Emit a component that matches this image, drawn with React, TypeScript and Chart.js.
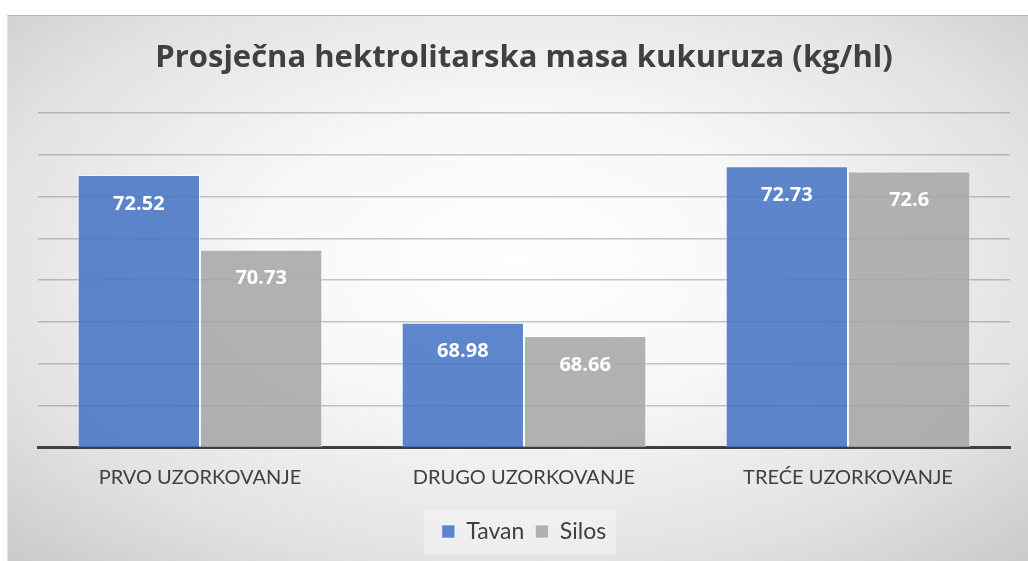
import React, { useEffect, useRef } from "react";
import { Chart, registerables } from "chart.js";

Chart.register(...registerables);

const categories = ["PRVO UZORKOVANJE", "DRUGO UZORKOVANJE", "TREĆE UZORKOVANJE"];
const tavanValues = [72.52, 68.98, 72.73];
const silosValues = [70.73, 68.66, 72.6];
const seriesNames = ["Tavan", "Silos"];
const chartTitle = "Prosječna hektrolitarska masa kukuruza (kg/hl)";
const yMin = 66;
const yMax = 74;

const FONT = "Lato, 'Noto Sans', sans-serif";
const TITLE_FONT = "'Open Sans', Lato, sans-serif";

const dataLabelPlugin = {
  id: "dataLabels",
  afterDatasetsDraw(chart: any) {
    const ctx = chart.ctx;
    ctx.save();
    ctx.font = `bold 20px ${TITLE_FONT}`;
    ctx.fillStyle = "#ffffff";
    ctx.textAlign = "center";
    ctx.textBaseline = "middle";
    chart.data.datasets.forEach((ds: any, i: number) => {
      const meta = chart.getDatasetMeta(i);
      meta.data.forEach((bar: any, j: number) => {
        ctx.fillText(String(ds.data[j]), bar.x, bar.y + 29);
      });
    });
    ctx.restore();
  },
};

const legendBgPlugin = {
  id: "legendBg",
  beforeDraw(chart: any) {
    const lg = chart.legend;
    if (!lg || !lg.legendHitBoxes || !lg.legendHitBoxes.length) return;
    const boxes = lg.legendHitBoxes;
    const left = Math.min(...boxes.map((b: any) => b.left)) - 18;
    const right = Math.max(...boxes.map((b: any) => b.left + b.width)) + 10;
    const top = Math.min(...boxes.map((b: any) => b.top));
    const bottom = Math.max(...boxes.map((b: any) => b.top + b.height));
    const cy = (top + bottom) / 2;
    const ctx = chart.ctx;
    ctx.save();
    ctx.fillStyle = "rgba(255,255,255,0.35)";
    ctx.fillRect(left, cy - 22, right - left, 45);
    ctx.restore();
  },
};

export default function App() {
  const ref = useRef<HTMLCanvasElement>(null);
  useEffect(() => {
    if (!ref.current) return;
    const chart = new Chart(ref.current, {
      type: "bar",
      data: {
        labels: categories,
        datasets: [
          {
            label: seriesNames[0],
            data: tavanValues,
            backgroundColor: "rgba(68,114,196,0.86)",
            borderColor: "rgba(255,255,255,0.55)",
            borderWidth: 1,
            barPercentage: 1,
            categoryPercentage: 0.755,
          },
          {
            label: seriesNames[1],
            data: silosValues,
            backgroundColor: "rgba(165,165,165,0.86)",
            borderColor: "rgba(255,255,255,0.55)",
            borderWidth: 1,
            barPercentage: 1,
            categoryPercentage: 0.755,
          },
        ],
      },
      options: {
        responsive: false,
        animation: false,
        layout: { padding: { left: 38, right: 18, top: 15, bottom: 8 } },
        plugins: {
          title: {
            display: true,
            text: chartTitle,
            color: "#404040",
            font: { family: TITLE_FONT, size: 31, weight: "bold" },
            padding: { top: 25, bottom: 36 },
          },
          legend: {
            display: true,
            position: "bottom",
            labels: {
              color: "#404040",
              font: { family: FONT, size: 23 },
              boxWidth: 13,
              boxHeight: 13,
              padding: 11,
            },
          },
          tooltip: { enabled: false },
        },
        scales: {
          x: {
            grid: { display: false, drawTicks: false },
            border: { display: true, color: "#404040", width: 3 },
            ticks: {
              color: "#404040",
              font: { family: FONT, size: 20 },
              padding: 19,
            },
          },
          y: {
            min: yMin,
            max: yMax,
            ticks: { display: false, stepSize: 1 },
            grid: { color: "rgba(60,60,60,0.28)", lineWidth: 1.5, drawTicks: false },
            border: { display: false },
          },
        },
      },
      plugins: [dataLabelPlugin, legendBgPlugin],
    });
    return () => chart.destroy();
  }, []);

  return (
    <div style={{ position: "fixed", left: 0, top: 0, width: 1028, height: 561, background: "#ffffff" }}>
      <div
        style={{
          position: "absolute",
          left: 7,
          top: 15,
          width: 1021,
          height: 546,
          boxSizing: "border-box",
          borderTop: "1px solid #b8b8b8",
          borderLeft: "1px solid #e6e6e6",
          background: "radial-gradient(ellipse 75% 80% at 50% 45%, #ffffff 0%, #f7f7f7 35%, #e2e2e2 70%, #c6c6c6 100%)",
        }}
      />
      <canvas ref={ref} width={1028} height={561} style={{ position: "absolute", left: 0, top: 0 }} />
    </div>
  );
}
